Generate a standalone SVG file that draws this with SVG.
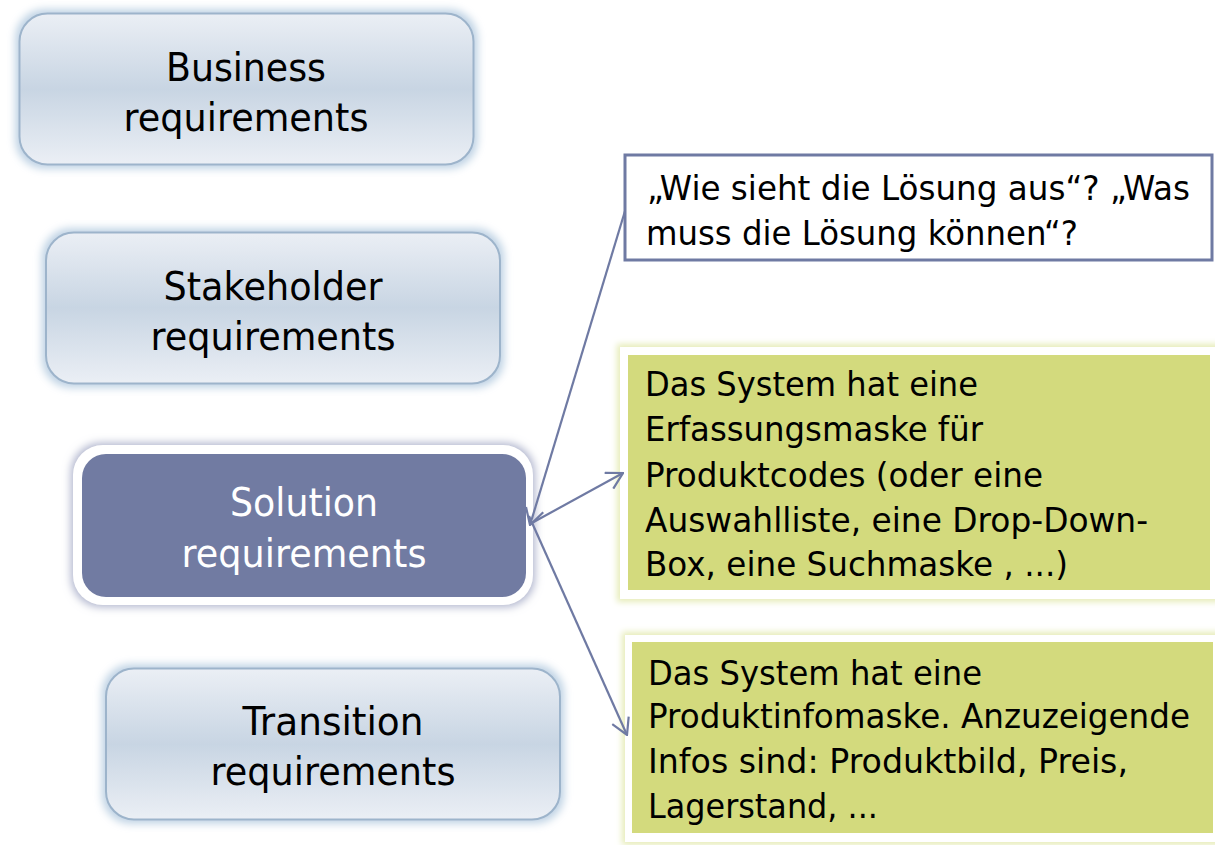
<svg xmlns="http://www.w3.org/2000/svg" width="1215" height="845" viewBox="0 0 1215 845">
<style>
  .lt { font-family: "DejaVu Sans", "Liberation Sans", sans-serif; font-size: 39px; fill: #000; text-anchor: middle; }
  .lw { font-family: "DejaVu Sans", "Liberation Sans", sans-serif; font-size: 39px; fill: #fff; text-anchor: middle; }
  .rt { font-family: "DejaVu Sans", "Liberation Sans", sans-serif; font-size: 33px; fill: #000; }
  .pale { fill: url(#paleGrad); stroke: #9db4cb; stroke-width: 2; filter: url(#glowBlue); }
  .conn { stroke: #6f7aa3; stroke-width: 2.2; fill: none; }
  .green { fill: #d3da7d; }
</style>
<defs>
  <linearGradient id="paleGrad" x1="0" y1="0" x2="0" y2="1">
    <stop offset="0" stop-color="#ebeff5"/>
    <stop offset="0.5" stop-color="#c8d5e3"/>
    <stop offset="1" stop-color="#ebeff5"/>
  </linearGradient>
  <filter id="glowBlue" x="-10%" y="-20%" width="120%" height="140%">
    <feMorphology in="SourceAlpha" operator="dilate" radius="3" result="d"/>
    <feGaussianBlur in="d" stdDeviation="4" result="b"/>
    <feFlood flood-color="#bcd0e3"/>
    <feComposite in2="b" operator="in" result="g"/>
    <feMerge><feMergeNode in="g"/><feMergeNode in="SourceGraphic"/></feMerge>
  </filter>
  <filter id="glowSlate" x="-10%" y="-20%" width="120%" height="140%">
    <feMorphology in="SourceAlpha" operator="dilate" radius="2" result="d"/>
    <feGaussianBlur in="d" stdDeviation="4" result="b"/>
    <feFlood flood-color="#aeb3cc"/>
    <feComposite in2="b" operator="in" result="g"/>
    <feMerge><feMergeNode in="g"/><feMergeNode in="SourceGraphic"/></feMerge>
  </filter>
  <filter id="glowGreen" x="-10%" y="-20%" width="120%" height="140%">
    <feMorphology in="SourceAlpha" operator="dilate" radius="3" result="d"/>
    <feGaussianBlur in="d" stdDeviation="3" result="b"/>
    <feFlood flood-color="#e6ecb8"/>
    <feComposite in2="b" operator="in" result="g"/>
    <feMerge><feMergeNode in="g"/><feMergeNode in="SourceGraphic"/></feMerge>
  </filter>
  <marker id="arr" viewBox="0 0 20 20" refX="19" refY="10" markerWidth="20" markerHeight="20" markerUnits="userSpaceOnUse" orient="auto">
    <path d="M3,1 L19,10 L3,19" fill="none" stroke="#6f7aa3" stroke-width="2.2"/>
  </marker>
</defs>

<g id="business">
  <rect class="pale" x="19.5" y="13.5" width="454" height="151" rx="28"/>
  <text class="lt" x="246" y="81" textLength="160" lengthAdjust="spacingAndGlyphs">Business</text>
  <text class="lt" x="246" y="131" textLength="245" lengthAdjust="spacingAndGlyphs">requirements</text>
</g>

<g id="stakeholder">
  <rect class="pale" x="46" y="232.5" width="454" height="151" rx="28"/>
  <text class="lt" x="273" y="300" textLength="219" lengthAdjust="spacingAndGlyphs">Stakeholder</text>
  <text class="lt" x="273" y="350" textLength="245" lengthAdjust="spacingAndGlyphs">requirements</text>
</g>

<g id="solution">
  <rect x="73" y="445" width="460" height="160" rx="30" fill="#ffffff" filter="url(#glowSlate)"/>
  <rect x="82" y="454" width="444" height="143" rx="24" fill="#717ba2"/>
  <text class="lw" x="304" y="516" textLength="148" lengthAdjust="spacingAndGlyphs">Solution</text>
  <text class="lw" x="304" y="567" textLength="245" lengthAdjust="spacingAndGlyphs">requirements</text>
</g>

<g id="transition">
  <rect class="pale" x="106" y="668.5" width="454" height="151" rx="28"/>
  <text class="lt" x="333" y="735" textLength="181" lengthAdjust="spacingAndGlyphs">Transition</text>
  <text class="lt" x="333" y="785" textLength="245" lengthAdjust="spacingAndGlyphs">requirements</text>
</g>

<g id="question">
  <rect x="625" y="155" width="587" height="105" fill="#ffffff" stroke="#6f7aa3" stroke-width="3"/>
  <text class="rt" x="647" y="200" textLength="543" lengthAdjust="spacingAndGlyphs">„Wie sieht die Lösung aus“? „Was</text>
  <text class="rt" x="646" y="245" textLength="432" lengthAdjust="spacingAndGlyphs">muss die Lösung können“?</text>
</g>

<g id="req1">
  <rect x="620" y="347" width="605" height="252" fill="#ffffff" filter="url(#glowGreen)"/>
  <rect class="green" x="628" y="355" width="582" height="235"/>
  <text class="rt" x="645" y="396" textLength="333" lengthAdjust="spacingAndGlyphs">Das System hat eine</text>
  <text class="rt" x="645" y="441" textLength="338" lengthAdjust="spacingAndGlyphs">Erfassungsmaske für</text>
  <text class="rt" x="645" y="487" textLength="398" lengthAdjust="spacingAndGlyphs">Produktcodes (oder eine</text>
  <text class="rt" x="645" y="532" textLength="503" lengthAdjust="spacingAndGlyphs">Auswahlliste, eine Drop-Down-</text>
  <text class="rt" x="645" y="576" textLength="423" lengthAdjust="spacingAndGlyphs">Box, eine Suchmaske , ...)</text>
</g>

<g id="req2">
  <rect x="625" y="635" width="600" height="207" fill="#ffffff" filter="url(#glowGreen)"/>
  <rect class="green" x="632" y="642" width="581" height="191"/>
  <text class="rt" x="648" y="685" textLength="334" lengthAdjust="spacingAndGlyphs">Das System hat eine</text>
  <text class="rt" x="648" y="728" textLength="542" lengthAdjust="spacingAndGlyphs">Produktinfomaske. Anzuzeigende</text>
  <text class="rt" x="648" y="773" textLength="480" lengthAdjust="spacingAndGlyphs">Infos sind: Produktbild, Preis,</text>
  <text class="rt" x="648" y="818" textLength="230" lengthAdjust="spacingAndGlyphs">Lagerstand, ...</text>
</g>

<g id="connectors">
  <line class="conn" x1="625" y1="211" x2="530" y2="525" marker-end="url(#arr)"/>
  <line class="conn" x1="530" y1="524" x2="623" y2="473" marker-end="url(#arr)"/>
  <line class="conn" x1="529" y1="516" x2="627" y2="735" marker-end="url(#arr)"/>
</g>
</svg>
